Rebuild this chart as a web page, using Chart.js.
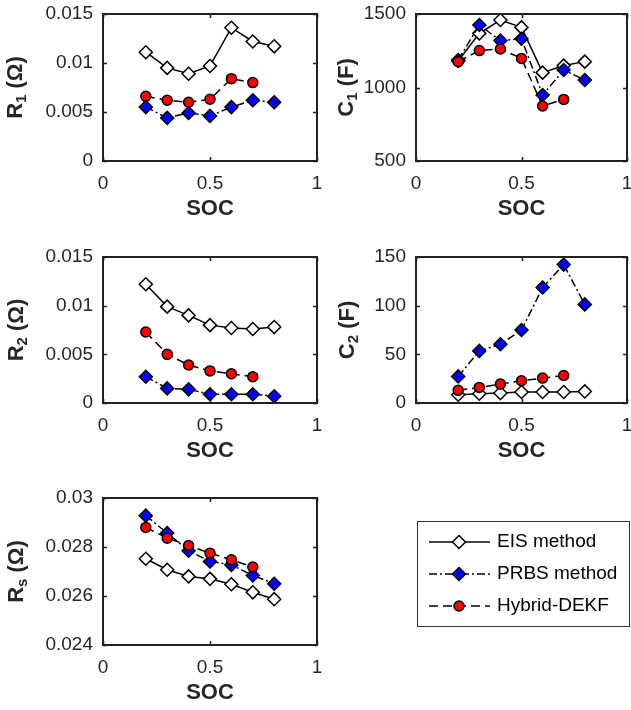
<!DOCTYPE html>
<html>
<head>
<meta charset="utf-8">
<script src="https://cdn.jsdelivr.net/npm/chart.js@4.4.1/dist/chart.umd.min.js"></script>
<style>
  body { margin: 0; background: #fff; }
  #wrap { position: relative; width: 631px; height: 710px; overflow: hidden; }
  canvas { position: absolute; }
</style>
</head>
<body>
<div id="wrap">
  <canvas id="r1Chart"></canvas>
  <canvas id="c1Chart"></canvas>
  <canvas id="r2Chart"></canvas>
  <canvas id="c2Chart"></canvas>
  <canvas id="rsChart"></canvas>
</div>
<script>
// ===== Datos =====
const soc = [0.2, 0.3, 0.4, 0.5, 0.6, 0.7, 0.8];
const socHybrid = [0.2, 0.3, 0.4, 0.5, 0.6, 0.7];
const socTicks = [0, 0.5, 1];

const r1Eis = [0.0111, 0.0095, 0.0089, 0.0097, 0.0136, 0.0122, 0.0117];
const r1Prbs = [0.0055, 0.0044, 0.0049, 0.0046, 0.0055, 0.0062, 0.0060];
const r1Hybrid = [0.0066, 0.0062, 0.0060, 0.0063, 0.0084, 0.0080];
const r1Ticks = [0, 0.005, 0.01, 0.015];

const c1Eis = [1180, 1368, 1459, 1409, 1101, 1149, 1176];
const c1Prbs = [1187, 1425, 1319, 1332, 949, 1119, 1051];
const c1Hybrid = [1176, 1251, 1262, 1198, 874, 919];
const c1Ticks = [500, 1000, 1500];

const r2Eis = [0.0122, 0.0099, 0.0090, 0.0080, 0.0077, 0.0076, 0.0078];
const r2Prbs = [0.0027, 0.0015, 0.0014, 0.0009, 0.0009, 0.0009, 0.0007];
const r2Hybrid = [0.0073, 0.0050, 0.0039, 0.0033, 0.0030, 0.0027];
const r2Ticks = [0, 0.005, 0.01, 0.015];

const c2Eis = [8.5, 9.5, 10.2, 11.3, 11.3, 11.3, 11.9];
const c2Prbs = [27.3, 53.5, 60.3, 75.0, 118.6, 142.2, 101.3];
const c2Hybrid = [13.0, 16.0, 19.4, 22.8, 25.6, 28.3];
const c2Ticks = [0, 50, 100, 150];

const rsEis = [0.02752, 0.02707, 0.02680, 0.02670, 0.02648, 0.02615, 0.02587];
const rsPrbs = [0.02928, 0.02857, 0.02785, 0.02741, 0.02727, 0.02684, 0.02650];
const rsHybrid = [0.02880, 0.02836, 0.02806, 0.02775, 0.02748, 0.02718];
const rsTicks = [0.024, 0.026, 0.028, 0.03];

const legendLabels = ["EIS method", "PRBS method", "Hybrid-DEKF"];

// ===== Estilos =====
const ink = "#262626";
const fontFamily = "'Liberation Sans', Arial, sans-serif";

const estilos = [
  { borderDash: [], pointStyle: "rectRot", pointRadius: 6.5, fill: "#ffffff", order: 3 },
  { borderDash: [8, 3, 2, 3], pointStyle: "rectRot", pointRadius: 6.5, fill: "#0000ff", order: 2 },
  { borderDash: [9, 5], pointStyle: "circle", pointRadius: 5, fill: "#ff0000", order: 1 },
];

function toPoints(xs, ys) {
  return ys.map((y, i) => ({ x: xs[i], y: y }));
}

// caja estilo matlab con ticks hacia dentro
const boxPlugin = {
  id: "boxAxes",
  afterDraw(chart) {
    const ctx = chart.ctx;
    const a = chart.chartArea;
    const t = 4;
    ctx.save();
    ctx.strokeStyle = "#222";
    ctx.lineWidth = 1.6;
    ctx.beginPath();
    chart.scales.y.ticks.forEach((tk) => {
      const py = Math.round(chart.scales.y.getPixelForValue(tk.value)) + 0.5;
      ctx.moveTo(a.left, py); ctx.lineTo(a.left + t, py);
      ctx.moveTo(a.right, py); ctx.lineTo(a.right - t, py);
    });
    chart.scales.x.ticks.forEach((tk) => {
      const px = Math.round(chart.scales.x.getPixelForValue(tk.value)) + 0.5;
      ctx.moveTo(px, a.bottom); ctx.lineTo(px, a.bottom - t);
      ctx.moveTo(px, a.top); ctx.lineTo(px, a.top + t);
    });
    ctx.stroke();
    ctx.lineWidth = 2;
    ctx.strokeRect(a.left, a.top, a.right - a.left, a.bottom - a.top);
    ctx.restore();
  },
};

// titulo del eje y con subindice
const yTitlePlugin = {
  id: "yTitle",
  afterDraw(chart, args, o) {
    if (!o.main) return;
    const ctx = chart.ctx;
    const a = chart.chartArea;
    const big = "bold 22px " + fontFamily;
    const small = "bold 15px " + fontFamily;
    ctx.save();
    ctx.translate(o.x, (a.top + a.bottom) / 2);
    ctx.rotate(-Math.PI / 2);
    ctx.fillStyle = ink;
    ctx.textBaseline = "middle";
    ctx.textAlign = "left";
    ctx.font = big;
    const w1 = ctx.measureText(o.main).width;
    const w3 = ctx.measureText(o.unit).width;
    ctx.font = small;
    const w2 = ctx.measureText(o.sub).width;
    let x = -(w1 + w2 + w3) / 2;
    ctx.font = big;
    ctx.fillText(o.main, x, 0);
    x += w1;
    ctx.font = small;
    ctx.fillText(o.sub, x, 6);
    x += w2;
    ctx.font = big;
    ctx.fillText(o.unit, x, 0);
    ctx.restore();
  },
};

// leyenda dibujada a mano (linea + marcador)
const legendPlugin = {
  id: "boxLegend",
  afterDraw(chart, args, o) {
    if (!o.show) return;
    const ctx = chart.ctx;
    ctx.save();
    ctx.strokeStyle = "#333";
    ctx.lineWidth = 1;
    ctx.strokeRect(o.x + 0.5, o.y + 0.5, o.w, o.h);
    legendLabels.forEach((label, i) => {
      const st = estilos[i];
      const cy = o.y + 21 + i * 32;
      const x0 = o.x + 12, x1 = o.x + 73, xm = o.x + 42;
      ctx.strokeStyle = "#000";
      ctx.lineWidth = 1.5;
      ctx.setLineDash(st.borderDash);
      ctx.beginPath();
      ctx.moveTo(x0, cy); ctx.lineTo(x1, cy);
      ctx.stroke();
      ctx.setLineDash([]);
      ctx.fillStyle = st.fill;
      ctx.beginPath();
      if (st.pointStyle === "circle") {
        ctx.arc(xm, cy, st.pointRadius, 0, Math.PI * 2);
      } else {
        const r = st.pointRadius;
        ctx.moveTo(xm, cy - r); ctx.lineTo(xm + r, cy);
        ctx.lineTo(xm, cy + r); ctx.lineTo(xm - r, cy);
        ctx.closePath();
      }
      ctx.fill();
      ctx.stroke();
      ctx.fillStyle = "#000";
      ctx.font = "19px " + fontFamily;
      ctx.textBaseline = "middle";
      ctx.fillText(label, o.x + 80, cy);
    });
    ctx.restore();
  },
};

function crearPanel(id, caja, area, series, yTicks, yTitle, legend) {
  const canvas = document.getElementById(id);
  canvas.width = caja.w;
  canvas.height = caja.h;
  canvas.style.left = caja.x + "px";
  canvas.style.top = caja.y + "px";

  const xHeight = 61;

  new Chart(canvas, {
    type: "line",
    data: {
      datasets: series.map((s, i) => ({
        data: toPoints(s.x, s.y),
        borderColor: "#000",
        borderWidth: 1.5,
        borderDash: estilos[i].borderDash,
        pointStyle: estilos[i].pointStyle,
        pointRadius: estilos[i].pointRadius,
        pointBackgroundColor: estilos[i].fill,
        pointBorderColor: "#000",
        pointBorderWidth: 1.5,
        order: estilos[i].order,
        tension: 0,
      })),
    },
    options: {
      responsive: false,
      animation: false,
      devicePixelRatio: 1,
      events: [],
      layout: {
        autoPadding: false,
        padding: {
          left: 0,
          top: area.top - caja.y,
          right: caja.x + caja.w - area.right,
          bottom: caja.y + caja.h - (area.bottom + xHeight),
        },
      },
      plugins: {
        legend: { display: false },
        tooltip: { enabled: false },
        yTitle: yTitle,
        boxLegend: legend || { show: false },
      },
      scales: {
        x: {
          type: "linear",
          min: 0,
          max: 1,
          grid: { display: false, drawTicks: false },
          border: { display: false },
          afterBuildTicks: (s) => { s.ticks = socTicks.map((v) => ({ value: v })); },
          afterFit: (s) => { s.height = xHeight; s.paddingLeft = 0; s.paddingRight = 0; },
          ticks: {
            padding: 11,
            color: ink,
            font: { size: 19, family: fontFamily },
            callback: (v) => String(v),
          },
          title: {
            display: true,
            text: "SOC",
            color: ink,
            padding: 0,
            font: { size: 22, weight: "bold", family: fontFamily },
          },
        },
        y: {
          type: "linear",
          min: yTicks[0],
          max: yTicks[yTicks.length - 1],
          grid: { display: false, drawTicks: false },
          border: { display: false },
          afterBuildTicks: (s) => { s.ticks = yTicks.map((v) => ({ value: v })); },
          afterFit: (s) => { s.width = area.left - caja.x; s.paddingTop = 0; s.paddingBottom = 0; },
          ticks: {
            padding: 10,
            color: ink,
            font: { size: 19, family: fontFamily },
            callback: (v) => String(v),
          },
        },
      },
    },
    plugins: [boxPlugin, yTitlePlugin, legendPlugin],
  });
}

function series3(eis, prbs, hybrid) {
  return [
    { x: soc, y: eis },
    { x: soc, y: prbs },
    { x: socHybrid, y: hybrid },
  ];
}

crearPanel("r1Chart",
  { x: 0, y: 0, w: 330, h: 235 },
  { left: 103, right: 317, top: 14, bottom: 161 },
  series3(r1Eis, r1Prbs, r1Hybrid), r1Ticks,
  { main: "R", sub: "1", unit: " (\u03A9)", x: 16 });

crearPanel("c1Chart",
  { x: 330, y: 0, w: 301, h: 235 },
  { left: 416, right: 627, top: 14, bottom: 161 },
  series3(c1Eis, c1Prbs, c1Hybrid), c1Ticks,
  { main: "C", sub: "1", unit: " (F)", x: 17 });

crearPanel("r2Chart",
  { x: 0, y: 235, w: 330, h: 240 },
  { left: 103, right: 317, top: 257, bottom: 403 },
  series3(r2Eis, r2Prbs, r2Hybrid), r2Ticks,
  { main: "R", sub: "2", unit: " (\u03A9)", x: 17 });

crearPanel("c2Chart",
  { x: 330, y: 235, w: 301, h: 240 },
  { left: 416, right: 627, top: 257, bottom: 403 },
  series3(c2Eis, c2Prbs, c2Hybrid), c2Ticks,
  { main: "C", sub: "2", unit: " (F)", x: 18 });

crearPanel("rsChart",
  { x: 0, y: 475, w: 631, h: 235 },
  { left: 103, right: 317, top: 498, bottom: 645 },
  series3(rsEis, rsPrbs, rsHybrid), rsTicks,
  { main: "R", sub: "s", unit: " (\u03A9)", x: 17 },
  { show: true, x: 417, y: 46, w: 212, h: 105 });
</script>
</body>
</html>
